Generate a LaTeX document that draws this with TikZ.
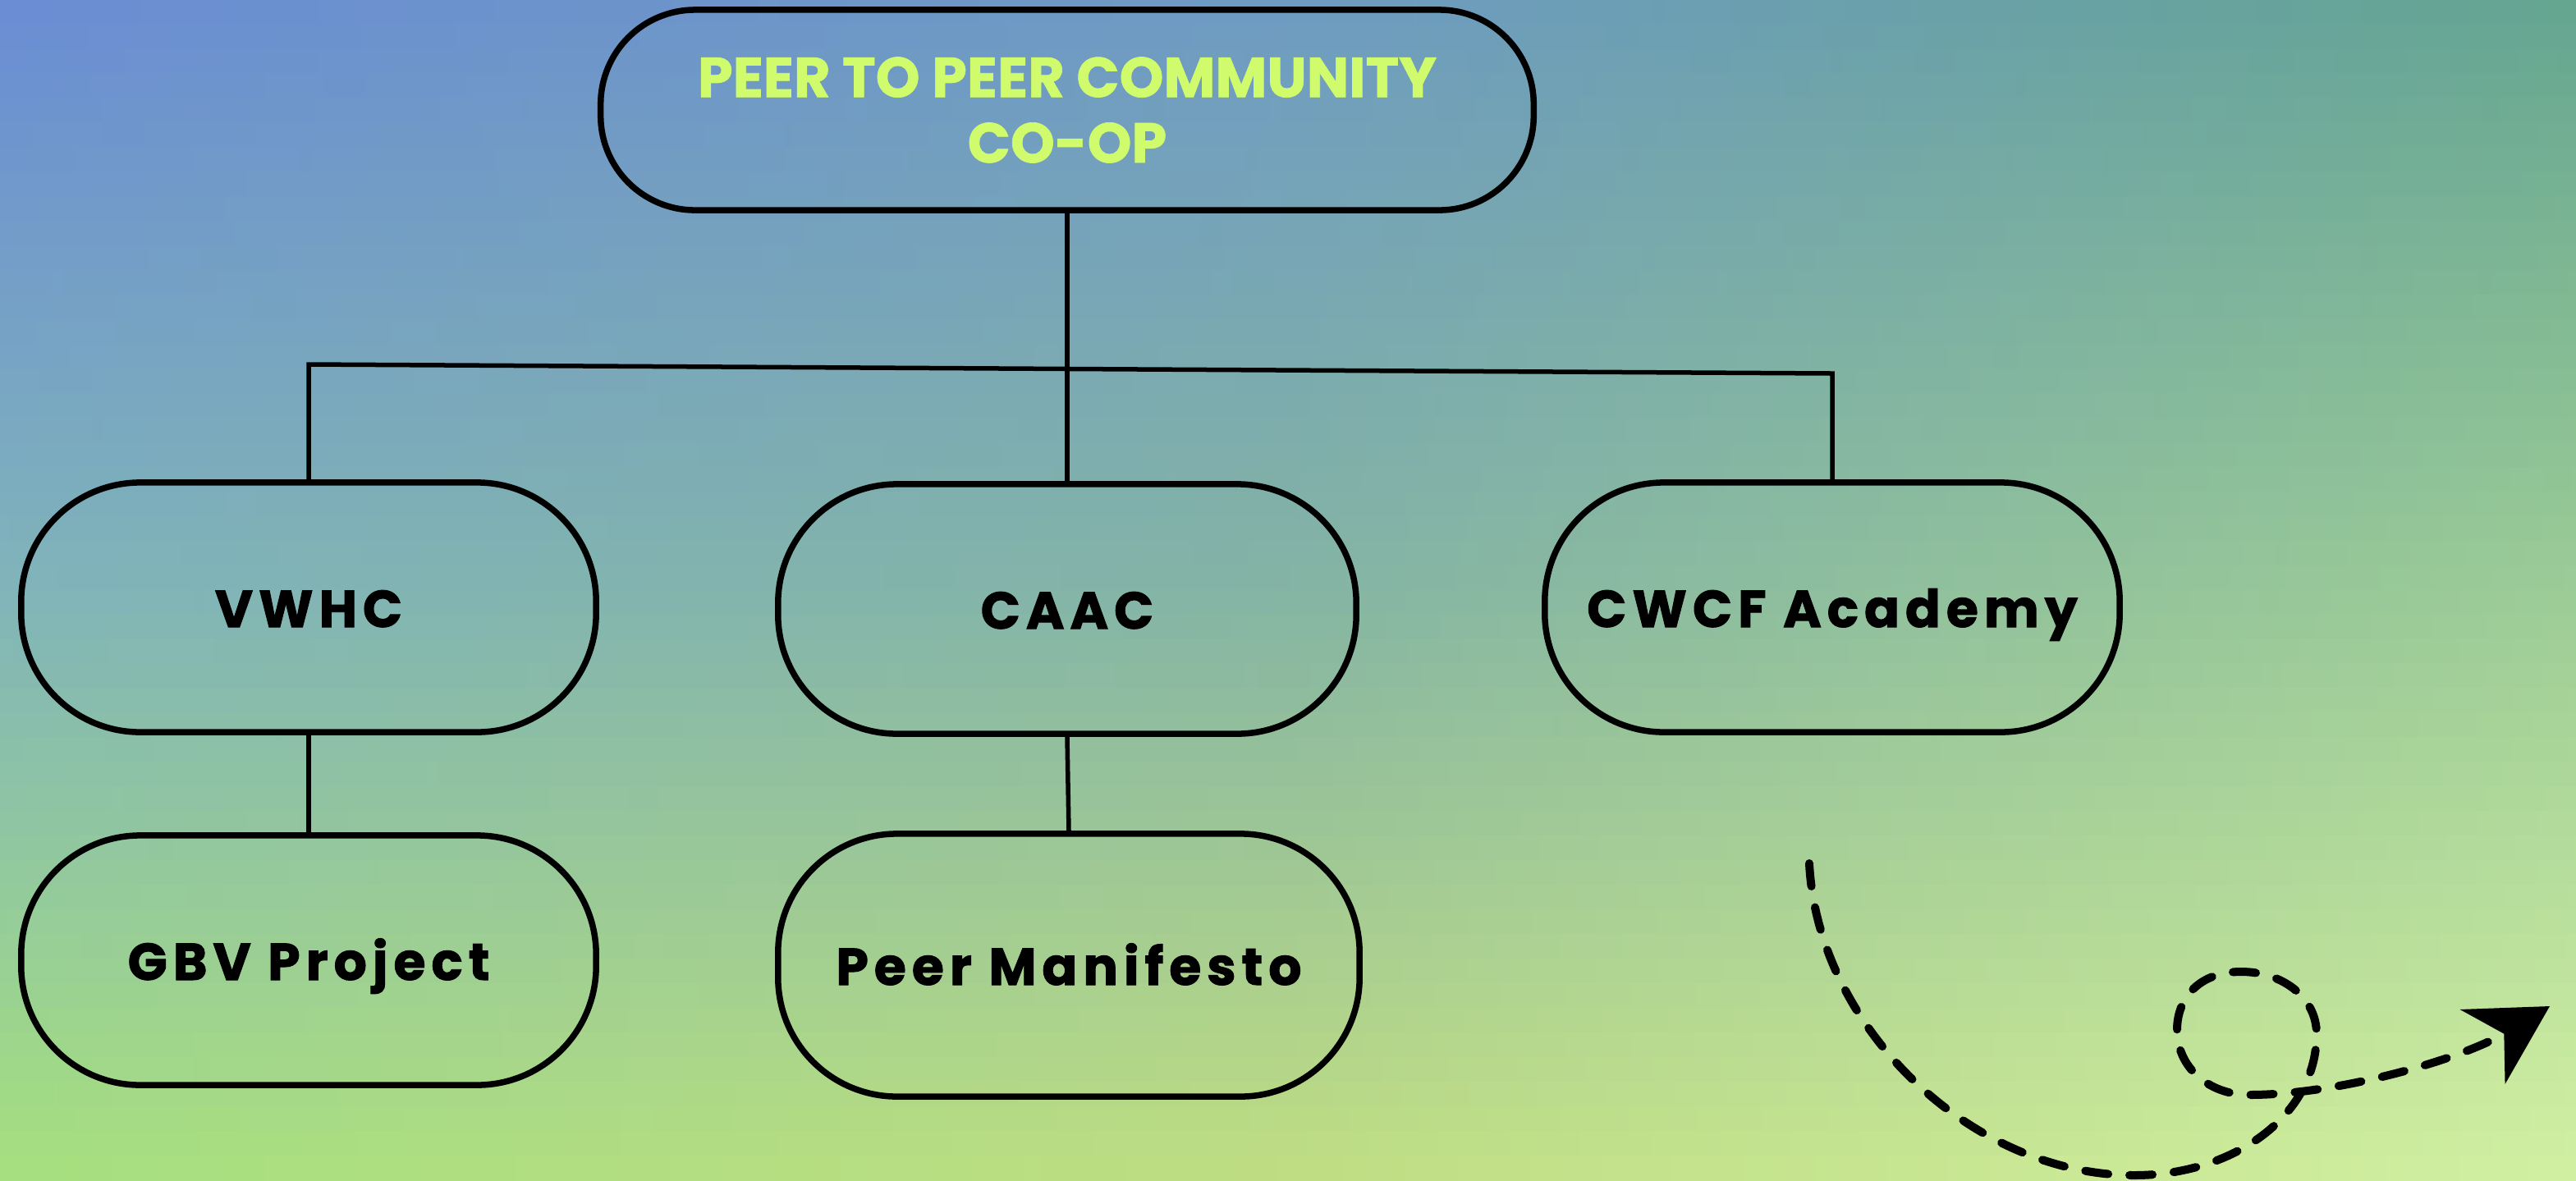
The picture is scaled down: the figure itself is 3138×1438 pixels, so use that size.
\documentclass[tikz,border=0pt]{standalone}
\usepackage{fontspec}
\usetikzlibrary{arrows.meta}
\newfontfamily\popfont{Poppins}[BoldFeatures={FakeBold=1}]
\newfontfamily\popwide{Poppins}[LetterSpace=11, BoldFeatures={FakeBold=1.5}]
\definecolor{tL}{HTML}{6A8CD4}
\definecolor{tM}{HTML}{6E9BC2}
\definecolor{tR}{HTML}{64A590}
\definecolor{mL}{HTML}{80B4BA}
\definecolor{mM}{HTML}{84B4A4}
\definecolor{mR}{HTML}{9CCC96}
\definecolor{bL}{HTML}{A6E07E}
\definecolor{bM}{HTML}{C0DE82}
\definecolor{bR}{HTML}{D2F0A2}
\definecolor{limetext}{HTML}{CFFB6C}
\tikzset{
  box/.style={draw=black, line width=0.075cm, rounded corners=1.45cm,
    minimum width=7cm, minimum height=3.04cm, inner sep=0pt,
    text height=0.48cm, text depth=0pt,
    font=\popwide\bfseries\fontsize{18}{20}\selectfont},
  topbox/.style={draw=black, line width=0.075cm, rounded corners=1.15cm,
    minimum width=11.36cm, minimum height=2.44cm, inner sep=0pt,
    text=limetext, align=center,
    font=\popfont\bfseries\fontsize{19.5}{22.7}\selectfont},
  link/.style={line width=0.055cm, draw=black},
  dashlink/.style={line width=0.1cm, draw=black, dash pattern=on 0.28cm off 0.26cm,
    line cap=round, -{Stealth[length=0.95cm,width=1.05cm,inset=0.3cm]}}
}
\begin{document}
\begin{tikzpicture}[x=0.01cm, y=-0.01cm]
\useasboundingbox (0,0) rectangle (3138,1438);
\begin{scope}
\clip (0,0) rectangle (3138,1438);
\foreach \i in {0,...,47}{
  \pgfmathsetmacro\myy{\i*29.9583}
  \pgfmathsetmacro\myt{(\i+0.5)/48}
  \pgfmathtruncatemacro\myup{\myt<0.5 ? 1 : 0}
  \ifnum\myup=1
    \pgfmathsetmacro\mypp{200*\myt}
    \colorlet{cL}{mL!\mypp!tL}\colorlet{cM}{mM!\mypp!tM}\colorlet{cR}{mR!\mypp!tR}
  \else
    \pgfmathsetmacro\mypp{200*\myt-100}
    \colorlet{cL}{bL!\mypp!mL}\colorlet{cM}{bM!\mypp!mM}\colorlet{cR}{bR!\mypp!mR}
  \fi
  \shade[left color=cL, right color=cR, middle color=cM] (-5,\myy) rectangle (3145,\myy+33);
}
\end{scope}

\node[topbox] (top) at (1300,134) {PEER TO PEER COMMUNITY\\CO-OP};
\node[box] (vwhc) at (376,740) {VWHC};
\node[box, minimum width=7.04cm] (caac) at (1300,742) {CAAC};
\node[box] (cwcf) at (2232,740) {CWCF Academy};
\node[box] (gbv) at (376,1170) {GBV Project};
\node[box, minimum width=7.08cm, minimum height=3.2cm] (pm) at (1302,1176) {Peer Manifesto};

\coordinate (jl) at (376,444);
\coordinate (jc) at (1300,450);
\coordinate (jr) at (2232,455);
\draw[link] (vwhc.north) -- (jl) -- (jr) -- (cwcf.north);
\draw[link] (top.south) -- (jc) -- (caac.north);
\draw[link] (vwhc.south) -- (gbv.north);
\draw[link] (caac.south) -- (pm.north);

\coordinate (as) at (2204,1052);
\coordinate (ae) at (3106,1226);
\draw[dashlink] (as) .. controls (2214,1250) and (2400,1432) .. (2600,1432)
  .. controls (2720,1432) and (2822,1360) .. (2822,1260)
  .. controls (2822,1215) and (2780,1184) .. (2730,1184)
  .. controls (2680,1184) and (2652,1215) .. (2652,1255)
  .. controls (2652,1300) and (2690,1334) .. (2740,1334)
  .. controls (2850,1334) and (3000,1290) .. (ae);
\end{tikzpicture}
\end{document}
